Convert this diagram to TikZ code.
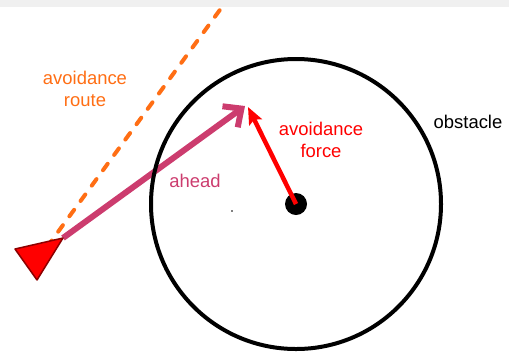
\documentclass[tikz,border=0pt]{standalone}
\usepackage{fontspec}
\setmainfont{Liberation Sans}
\usetikzlibrary{arrows.meta}
\definecolor{routeorange}{RGB}{255,110,20}
\definecolor{aheadpink}{RGB}{204,60,110}
\definecolor{forcered}{RGB}{255,0,0}
\definecolor{shipdark}{RGB}{140,0,0}
\definecolor{bandgray}{RGB}{240,240,240}

\begin{document}
\begin{tikzpicture}[x=1bp,y=-1bp,every node/.style={font=\fontsize{18.5}{22}\selectfont,align=center},
    route/.style={routeorange,line width=4bp,line cap=round,dash pattern=on 8bp off 11bp},
    aheadvec/.style={aheadpink,line width=6bp,-{Straight Barb[length=14bp,width=26bp,line width=6bp]}},
    forcevec/.style={forcered,line width=4.5bp,-{Stealth[length=17bp,width=14bp,inset=3bp]}}]
    \useasboundingbox (0,0) rectangle (509,353);
    \fill[bandgray] (0,0) rectangle (509,7);
    \coordinate (centre) at (296,204);
    \coordinate (nose) at (63,238);
    \coordinate (tail) at (47,247);
    \coordinate (routeend) at (222,7);
    \coordinate (aheadtip) at (245,106);
    \coordinate (forcetip) at (248,107);
    \draw[route] (tail) -- (routeend);
    \draw[aheadvec] (nose) -- (aheadtip);
    \draw[line width=4bp] (centre) circle[radius=145];
    \filldraw[fill=forcered,draw=shipdark,line width=1.5bp,line join=round] (15,249) -- (nose) -- (37,280) -- cycle;
    \fill (centre) circle[radius=11];
    \fill (232,211) circle[radius=0.8];
    \draw[forcevec] (centre) -- (forcetip);
    \node[text=routeorange] (routelabel) at (85,89) {avoidance\\route};
    \node[text=aheadpink] (aheadlabel) at (195,181) {ahead};
    \node[text=forcered] (forcelabel) at (321,140) {avoidance\\force};
    \node (obstaclelabel) at (468,122) {obstacle};
  \end{tikzpicture}
\end{document}
